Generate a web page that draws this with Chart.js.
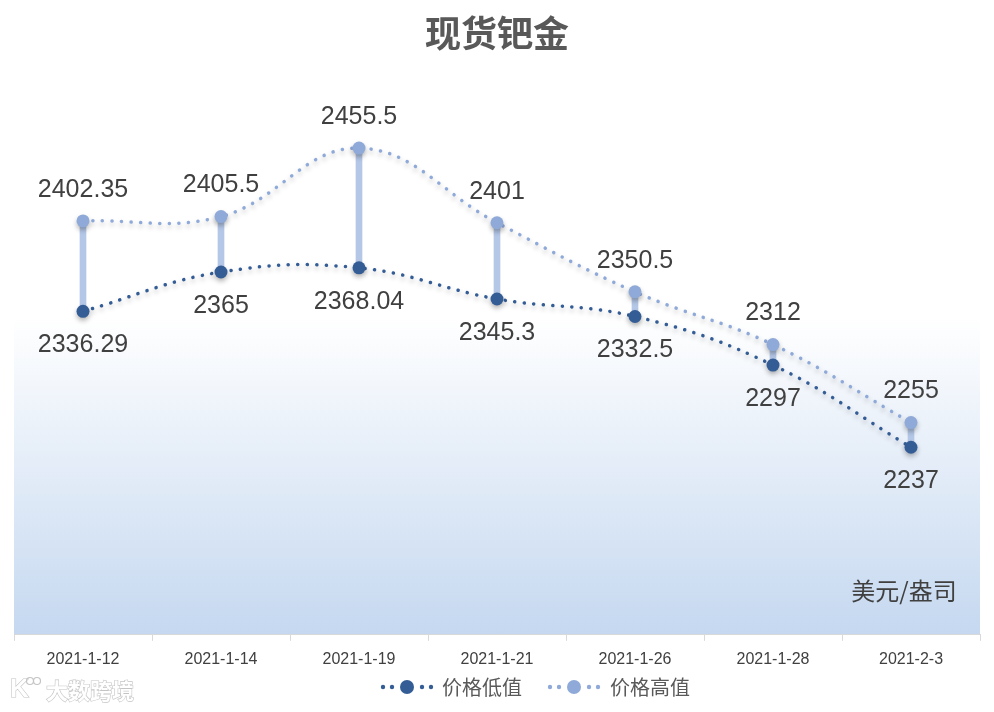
<!DOCTYPE html>
<html>
<head>
<meta charset="utf-8">
<script src="https://cdn.jsdelivr.net/npm/chart.js@4.4.1/dist/chart.umd.min.js"></script>
<style>
  html, body { margin: 0; padding: 0; background: #fff; }
  #c { display: block; }
</style>
</head>
<body>
<canvas id="c" width="994" height="712"></canvas>
<script>
  const DATES = ["2021-1-12", "2021-1-14", "2021-1-19", "2021-1-21", "2021-1-26", "2021-1-28", "2021-2-3"];
  const LOW_PRICE = [2336.29, 2365, 2368.04, 2345.3, 2332.5, 2297, 2237];
  const HIGH_PRICE = [2402.35, 2405.5, 2455.5, 2401, 2350.5, 2312, 2255];
  const SERIES_NAMES = ["价格低值", "价格高值"];
  const Y_MIN = 2100;
  const Y_MAX = 2500;

  const DARK = "#345d96";
  const LIGHT = "#8faad8";
  const BAR = "#b4c7e7";
  const TEXT = "#404040";
  const FONT = '"Liberation Sans", "Noto Sans CJK SC", sans-serif';
  const CJK = '"Noto Sans CJK SC", "Liberation Sans", sans-serif';

  /* ---------- PLUGINS ---------- */

  const plotBackground = {
    id: "plotBackground",
    beforeDraw(chart) {
      const { ctx, chartArea: a } = chart;
      const grad = ctx.createLinearGradient(0, a.top, 0, a.bottom);
      grad.addColorStop(0, "#ffffff");
      grad.addColorStop(0.42, "#ffffff");
      grad.addColorStop(1, "#c5d8f0");
      ctx.save();
      ctx.fillStyle = grad;
      ctx.fillRect(a.left, a.top, a.right - a.left, a.bottom - a.top);
      ctx.restore();
    }
  };

  const lineShadow = {
    id: "lineShadow",
    beforeDatasetDraw(chart, args) {
      if (chart.data.datasets[args.index].type !== "line") return;
      const ctx = chart.ctx;
      ctx.save();
      ctx.shadowColor = "rgba(0,0,0,0.28)";
      ctx.shadowBlur = 5;
      ctx.shadowOffsetY = 3;
    },
    afterDatasetDraw(chart, args) {
      if (chart.data.datasets[args.index].type !== "line") return;
      chart.ctx.restore();
    }
  };

  const valueLabels = {
    id: "valueLabels",
    afterDatasetsDraw(chart) {
      const ctx = chart.ctx;
      ctx.save();
      ctx.font = "25px " + FONT;
      ctx.fillStyle = TEXT;
      ctx.textAlign = "center";
      ctx.textBaseline = "middle";
      chart.data.datasets.forEach((ds, i) => {
        if (!ds.labelOffset) return;
        chart.getDatasetMeta(i).data.forEach((pt, j) => {
          ctx.fillText(String(ds.data[j]), pt.x, pt.y + ds.labelOffset);
        });
      });
      ctx.restore();
    }
  };

  // Excel-style legend: dotted line with a big dot in the middle
  function drawMarker(ctx, cx, cy, color) {
    ctx.fillStyle = color;
    [-24, -15, 15, 24].forEach(dx => {
      ctx.beginPath();
      ctx.arc(cx + dx, cy, 2.2, 0, Math.PI * 2);
      ctx.fill();
    });
    ctx.beginPath();
    ctx.arc(cx, cy, 7, 0, Math.PI * 2);
    ctx.fill();
  }

  const extras = {
    id: "extras",
    afterDraw(chart) {
      const ctx = chart.ctx;
      ctx.save();

      // legend
      ctx.font = "20px " + CJK;
      ctx.textBaseline = "middle";
      ctx.textAlign = "left";
      drawMarker(ctx, 407, 687, DARK);
      ctx.fillStyle = "#595959";
      ctx.fillText(SERIES_NAMES[0], 442, 687);
      drawMarker(ctx, 574, 687, LIGHT);
      ctx.fillStyle = "#595959";
      ctx.fillText(SERIES_NAMES[1], 610, 687);

      // unit
      ctx.font = "24px " + CJK;
      ctx.fillStyle = TEXT;
      ctx.textAlign = "center";
      ctx.fillText("美元/盎司", 904, 591);

      // watermark
      ctx.font = "bold 22px " + CJK;
      ctx.textAlign = "left";
      ctx.lineWidth = 1.2;
      ctx.strokeStyle = "#c4c4c4";
      ctx.fillStyle = "#ffffff";
      ctx.strokeText("大数跨境", 46, 691);
      ctx.fillText("大数跨境", 46, 691);
      ctx.font = "bold 26px " + FONT;
      ctx.strokeText("K", 10, 690);
      ctx.fillText("K", 10, 690);
      [[30, 681], [37, 681]].forEach(([x, y]) => {
        ctx.beginPath();
        ctx.arc(x, y, 3.5, 0, Math.PI * 2);
        ctx.stroke();
      });
      ctx.restore();
    }
  };

  /* ---------- CHART ---------- */

  const lineStyle = color => ({
    type: "line",
    borderColor: color,
    backgroundColor: color,
    borderWidth: 3.5,
    borderDash: [0.1, 9.5],
    borderCapStyle: "round",
    tension: 0.4,
    pointRadius: 6.5,
    pointHoverRadius: 6.5,
    pointBorderWidth: 0,
    fill: false
  });

  new Chart(document.getElementById("c"), {
    data: {
      labels: DATES,
      datasets: [
        {
          type: "bar",
          label: "hl",
          data: LOW_PRICE.map((v, i) => [v, HIGH_PRICE[i]]),
          backgroundColor: BAR,
          barThickness: 6,
          order: 3
        },
        Object.assign(lineStyle(LIGHT), {
          label: SERIES_NAMES[1],
          data: HIGH_PRICE,
          order: 2,
          labelOffset: -31
        }),
        Object.assign(lineStyle(DARK), {
          label: SERIES_NAMES[0],
          data: LOW_PRICE,
          order: 1,
          labelOffset: 34
        })
      ]
    },
    options: {
      responsive: false,
      animation: false,
      layout: { padding: { left: 14, right: 14, top: 0, bottom: 34 } },
      scales: {
        x: {
          offset: true,
          grid: {
            offset: true,
            drawOnChartArea: false,
            tickLength: 6,
            color: "#d9d9d9"
          },
          border: { color: "#d9d9d9" },
          ticks: {
            color: TEXT,
            font: { size: 16, family: FONT },
            padding: 9,
            maxRotation: 0
          }
        },
        y: {
          display: false,
          min: Y_MIN,
          max: Y_MAX
        }
      },
      plugins: {
        title: {
          display: true,
          text: "现货钯金",
          color: "#595959",
          font: { size: 36, weight: "bold", family: CJK },
          padding: { top: 12, bottom: 32 }
        },
        legend: { display: false },
        tooltip: { enabled: false }
      }
    },
    plugins: [plotBackground, lineShadow, valueLabels, extras]
  });
</script>
</body>
</html>
